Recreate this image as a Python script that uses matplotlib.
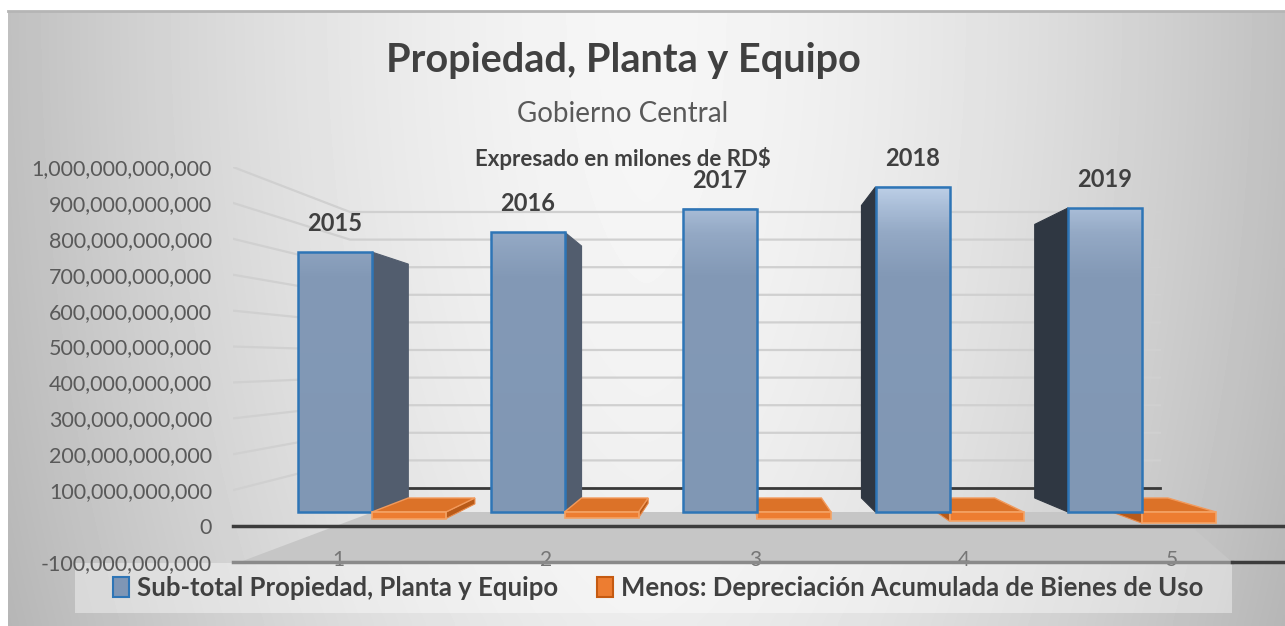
"""Propiedad, Planta y Equipo - Gobierno Central (Excel-style 3D clustered columns)."""
import matplotlib
matplotlib.use("Agg")
import matplotlib.pyplot as plt
import numpy as np
from matplotlib.colors import LinearSegmentedColormap
from matplotlib.patches import Patch, Polygon, Rectangle
from matplotlib.ticker import FuncFormatter

# ---------------- data (RD$) ----------------
CATEGORIES = ["1", "2", "3", "4", "5"]
YEARS = ["2015", "2016", "2017", "2018", "2019"]
SUBTOTAL = [790e9, 851e9, 921e9, 988e9, 924e9]
DEPRECIATION = [-20e9, -18e9, -21e9, -28e9, -34e9]
Y_TICKS = np.arange(-100e9, 1000e9 + 1, 100e9)
SERIES = ["Sub-total Propiedad, Planta y Equipo",
          "Menos: Depreciación Acumulada de Bienes de Uso"]

# ---------------- layout (pixels) ----------------
W, H = 1285, 626
BOX = (233, 167, 1285, 562)              # plot box: left, top, right, bottom
FRONT_X0, FRONT_STEP = 338, 208.5         # category labels on the floor edge
BAR_X0, BAR_STEP = 372, 192.5             # bar-plane group centres
BAR_ZERO, BAR_PX = 512, 0.329             # bar plane: zero row, px per 1e9
BACK_ZERO, BACK_PX = 488, 0.276           # back wall: zero row, px per 1e9
BACK_LEFT, BACK_RIGHT = 350, 1160
VP = (735, 372)                           # vanishing point
DEPTH = 0.10
BAR_W = 74 / BAR_STEP

BLUE_EDGE = "#2e75b6"
ORANGE = "#ed7d31"

plt.rcParams["font.family"] = ["Lato", "DejaVu Sans"]

fig = plt.figure(figsize=(W / 100, H / 100), dpi=100, facecolor="white")
rect = [BOX[0] / W, 1 - BOX[3] / H, (BOX[2] - BOX[0]) / W, (BOX[3] - BOX[1]) / H]

# ---------------- background ----------------
bg = fig.add_axes([0, 0, 1, 1], zorder=0)
bg.axis("off")
t = np.linspace(0, 1, 400)
row = 246 - 54 * np.abs(2 * t - 1) ** 1.6
yy = np.linspace(0, 1, 120)
img = row[None, :] - 10 * yy[:, None] ** 2
bg.imshow(img, cmap="gray", vmin=0, vmax=255, extent=[8, W, H, 11],
          aspect="auto", interpolation="bilinear")
bg.plot([8, W], [11, 11], color="#b5b5b5", lw=2)
bg.add_patch(Rectangle((75, 563), 1157, 50, fc="white", alpha=0.4, ec="none"))
bg.set_xlim(0, W)
bg.set_ylim(H, 0)

# ---------------- front axis: ticks, walls, floor ----------------
ax = fig.add_axes(rect, zorder=1)
ax.patch.set_alpha(0)
for s in ax.spines.values():
    s.set_visible(False)
fx = lambda px: (px - FRONT_X0) / FRONT_STEP
front_px = (BOX[3] - BOX[1]) / 1100          # px per 1e9 on the front plane
front_zero = BOX[3] - 100 * front_px
fy = lambda py: (front_zero - py) / front_px * 1e9
back_y = lambda v: fy(BACK_ZERO - v * 1e-9 * BACK_PX)
xl, xr = fx(BOX[0]), fx(BOX[2])

for v in Y_TICKS:
    if v <= 0:
        continue
    ax.plot([xl, fx(BACK_LEFT), fx(BACK_RIGHT)], [v, back_y(v), back_y(v)],
            color="#d0d0d0", lw=1.6, zorder=1)
ax.plot([fx(BACK_LEFT), fx(BACK_RIGHT)], [back_y(0)] * 2, color="#383838", lw=2, zorder=1.2)

floor = [(fx(240), -100e9), (fx(1232), -100e9), (fx(1175), fy(BAR_ZERO)), (fx(373), fy(BAR_ZERO))]
ax.add_patch(Polygon(floor, closed=True, fc="#c6c6c6", ec="none", zorder=1.5))
ax.plot([xl, xr], [0, 0], color="#3c3c3c", lw=2.5, zorder=2, clip_on=False)
ax.plot([xl, fx(1232)], [-100e9] * 2, color="#8a8a8a", lw=2.5, zorder=2, clip_on=False)
ax.plot([fx(1232), xr], [-100e9] * 2, color="#3c3c3c", lw=2.5, zorder=2, clip_on=False)

ax.set_xlim(xl, xr)
ax.set_ylim(-100e9, 1000e9)
ax.set_yticks(Y_TICKS)
ax.yaxis.set_major_formatter(FuncFormatter(lambda v, _: f"{round(v):,}"))
ax.tick_params(axis="y", length=0, pad=15, labelsize=15.5, labelcolor="#595959")
ax.set_xticks(range(len(CATEGORIES)))
ax.set_xticklabels(CATEGORIES)
ax.tick_params(axis="x", length=0, pad=-9, labelsize=15, labelcolor="#767676")

# ---------------- bar plane ----------------
axb = fig.add_axes(rect, zorder=2)
axb.axis("off")
bx = lambda px: (px - BAR_X0) / BAR_STEP
by = lambda py: (BAR_ZERO - py) / BAR_PX * 1e9
vpx, vpy = bx(VP[0]), by(VP[1])


def recede(x, y):
    return x + DEPTH * (vpx - x), y + DEPTH * (vpy - y)


def side_face(x0, x1, y0, y1):
    """Visible side face of a box whose front spans x0..x1, y0..y1."""
    if x1 <= vpx:
        xe = x1
    elif x0 >= vpx:
        xe = x0
    else:
        return None
    return [(xe, y0), (xe, y1), recede(xe, y1), recede(xe, y0)]


cmap = LinearSegmentedColormap.from_list(
    "ppe", [(0, "#8097b4"), (0.72, "#8399b6"), (0.85, "#94a9c5"),
            (0.93, "#aabed8"), (1.0, "#c0d2ea")])

for i, (v, d) in enumerate(zip(SUBTOTAL, DEPRECIATION)):
    zb, zo = (3, 4) if i <= vpx else (4, 3)

    # blue column
    x0, x1 = i - BAR_W, i
    face = side_face(x0, x1, 0, v)
    if face is not None:
        dark = "#525d6e" if x1 <= vpx else "#2f3742"
        axb.add_patch(Polygon(face, closed=True, fc=dark, ec=dark, lw=0.8, zorder=zb - 0.1))
    grad = np.linspace(0, v, 200)[:, None]
    axb.imshow(grad, cmap=cmap, vmin=0, vmax=1000e9, origin="lower",
               extent=[x0, x1, 0, v], aspect="auto", zorder=zb)
    axb.bar(x0, v, width=BAR_W, align="edge", fc="none", ec=BLUE_EDGE, lw=1.8, zorder=zb + 0.05)
    axb.annotate(YEARS[i], (i - BAR_W / 2, v), xytext=(0, 15), textcoords="offset points",
                 ha="center", va="baseline", fontsize=17, fontweight="bold",
                 color="#404040", zorder=6)

    # orange slab
    o0, o1 = i, i + BAR_W
    face = side_face(o0, o1, 0, d)
    if face is not None:
        axb.add_patch(Polygon(face, closed=True, fc="#b85a18", ec="#e98a4a", lw=0.8, zorder=zo - 0.1))
    top = [(o0, 0), (o1, 0), recede(o1, 0), recede(o0, 0)]
    axb.add_patch(Polygon(top, closed=True, fc="#dc7228", ec="#f29a5c", lw=1.0, zorder=zo))
    axb.bar(o0, d, width=BAR_W, align="edge", fc=ORANGE, ec="#f4a365", lw=1.2, zorder=zo + 0.05)

axb.set_xlim(bx(BOX[0]), bx(BOX[2]))
axb.set_ylim(by(BOX[3]), by(BOX[1]))

# ---------------- titles & legend ----------------
cx = 623 / W
fig.text(cx, 1 - 72 / H, "Propiedad, Planta y Equipo", ha="center", va="baseline",
         fontsize=28.5, fontweight="bold", color="#404040")
fig.text(cx, 1 - 122 / H, "Gobierno Central", ha="center", va="baseline",
         fontsize=20, color="#595959")
fig.text(cx, 1 - 166 / H, "Expresado en milones de RD$", ha="center", va="baseline",
         fontsize=16, fontweight="bold", color="#404040")

handles = [Patch(fc="#7f96b5", ec=BLUE_EDGE, lw=1.5), Patch(fc=ORANGE, ec="#c55a11", lw=1.5)]
leg = fig.legend(handles, SERIES, loc="center", bbox_to_anchor=(658 / W, 1 - 588 / H),
                 ncol=2, frameon=False, handlelength=0.65, handleheight=0.85,
                 handletextpad=0.3, columnspacing=1.5,
                 prop={"size": 18.5, "weight": "bold"})
for txt in leg.get_texts():
    txt.set_color("#404040")

fig.savefig("out.png", dpi=100)
